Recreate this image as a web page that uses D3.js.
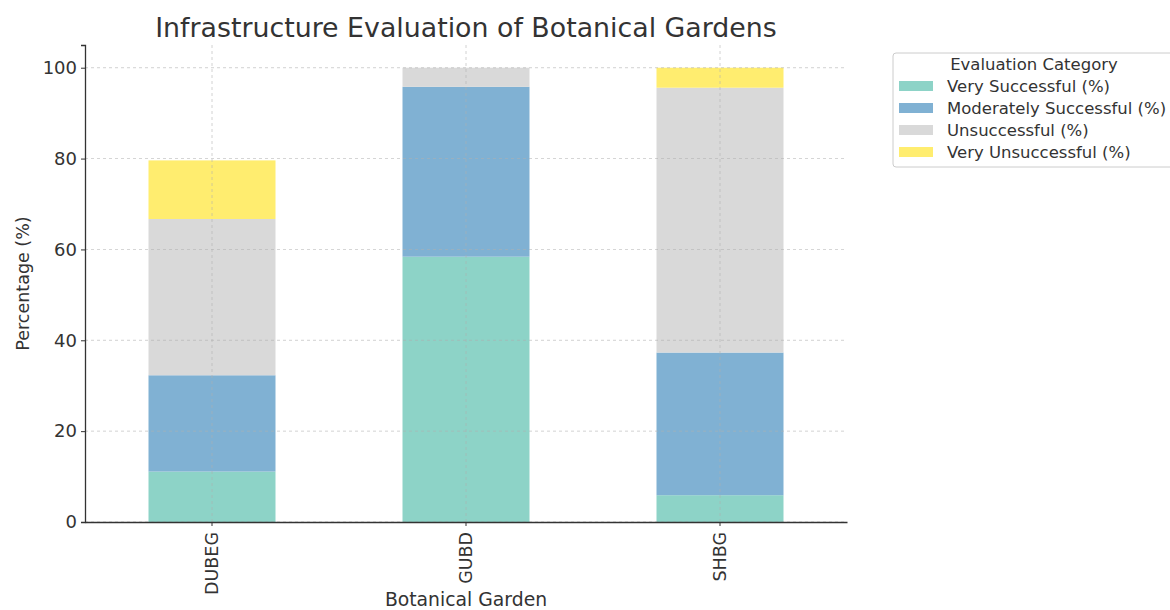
<!DOCTYPE html>
<html><head><meta charset="utf-8">
<script src="https://cdn.jsdelivr.net/npm/d3@7"></script>
<style>
body{margin:0;background:#fff;}
text{font-family:"DejaVu Sans",sans-serif;fill:#333;}
</style></head>
<body><svg id="c" width="1170" height="610"></svg>
<script>
const gardens = ["DUBEG","GUBD","SHBG"];
const seriesNames = ["Very Successful (%)","Moderately Successful (%)","Unsuccessful (%)","Very Unsuccessful (%)"];
const verySuccessful = [11.1, 58.4, 5.9];
const moderatelySuccessful = [21.2, 37.4, 31.4];
const unsuccessful = [34.4, 4.2, 58.3];
const veryUnsuccessful = [12.9, 0, 4.4];
const yTicks = [0,20,40,60,80,100];
const colors = ["#8dd3c7","#80b1d3","#d9d9d9","#ffed6f"];

const svg = d3.select("#c");
const m = {l:85, r:847, t:45, b:522};
const x = d3.scaleBand().domain(gardens).range([m.l,m.r]).paddingInner(0.5).paddingOuter(0.25);
const y = d3.scaleLinear().domain([0,105]).range([m.b,m.t]);

const rows = gardens.map((g,i)=>({g, v0:verySuccessful[i], v1:moderatelySuccessful[i], v2:unsuccessful[i], v3:veryUnsuccessful[i]}));
const stack = d3.stack().keys(["v0","v1","v2","v3"])(rows);

// bars
stack.forEach((layer,k)=>{
  svg.append("g").selectAll("rect").data(layer).join("rect")
    .attr("x", d=>x(d.data.g))
    .attr("width", x.bandwidth())
    .attr("y", d=>y(d[1]))
    .attr("height", d=>y(d[0])-y(d[1]))
    .attr("fill", colors[k]);
});

// grid
const grid = svg.append("g");
yTicks.forEach(t=>{
  grid.append("line").attr("x1",m.l).attr("x2",m.r).attr("y1",y(t)).attr("y2",y(t))
    .attr("stroke","#b0b0b0").attr("stroke-width",0.8).attr("stroke-dasharray","3,3").attr("opacity",0.7);
});
gardens.forEach(g=>{
  const cx = x(g)+x.bandwidth()/2;
  grid.append("line").attr("x1",cx).attr("x2",cx).attr("y1",m.t).attr("y2",m.b)
    .attr("stroke","#b0b0b0").attr("stroke-width",0.8).attr("stroke-dasharray","3,3").attr("opacity",0.7);
});

// axes
const yAxis = svg.append("g").attr("transform",`translate(${m.l},0)`)
  .call(d3.axisLeft(y).tickValues(yTicks).tickSize(4).tickPadding(4));
yAxis.select(".domain").attr("stroke","#333").attr("stroke-width",1.3);
yAxis.selectAll(".tick line").attr("stroke","#333");
yAxis.selectAll(".tick text").attr("font-size",18).style("fill","#333");

const xAxis = svg.append("g").attr("transform",`translate(0,${m.b})`)
  .call(d3.axisBottom(x).tickSize(4).tickSizeOuter(0));
xAxis.select(".domain").attr("stroke","#333").attr("stroke-width",1.3);
xAxis.selectAll(".tick line").attr("stroke","#333");
xAxis.selectAll(".tick text").attr("font-size",17.5).style("fill","#333")
  .attr("transform","rotate(-90)").attr("text-anchor","end").attr("x",-10).attr("y",0).attr("dy","0.35em");

// title & labels
svg.append("text").attr("x",(m.l+m.r)/2).attr("y",37).attr("text-anchor","middle")
  .attr("font-size",26.8).text("Infrastructure Evaluation of Botanical Gardens");
svg.append("text").attr("x",(m.l+m.r)/2).attr("y",606).attr("text-anchor","middle")
  .attr("font-size",18.8).text("Botanical Garden");
svg.append("text").attr("transform",`translate(29,${(m.t+m.b)/2}) rotate(-90)`).attr("text-anchor","middle")
  .attr("font-size",17.5).text("Percentage (%)");

// legend
const lg = svg.append("g");
lg.append("rect").attr("x",893).attr("y",53).attr("width",290).attr("height",114).attr("rx",3)
  .attr("fill","#fff").attr("stroke","#ccc");
lg.append("text").attr("x",1034).attr("y",70).attr("text-anchor","middle").attr("font-size",16.5).text("Evaluation Category");
seriesNames.forEach((s,i)=>{
  const yy = 86 + i*22;
  lg.append("rect").attr("x",899).attr("y",yy-5).attr("width",34).attr("height",10).attr("fill",colors[i]);
  lg.append("text").attr("x",947).attr("y",yy+6).attr("font-size",16.5).text(s);
});
</script></body></html>
